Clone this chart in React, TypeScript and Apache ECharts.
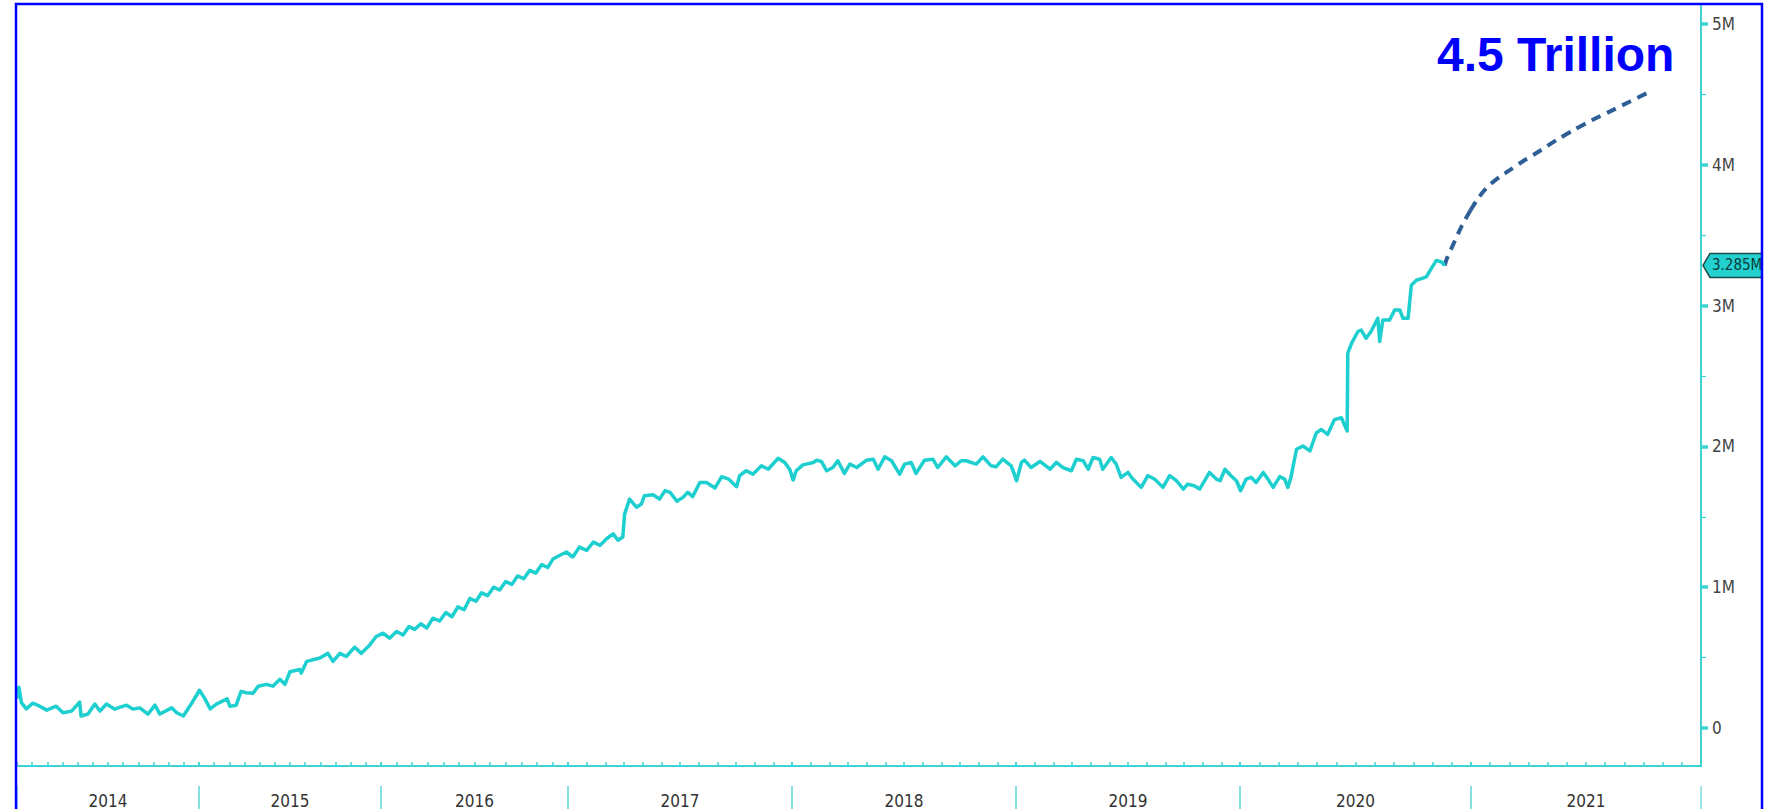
import React, { useEffect, useRef } from "react";
import * as echarts from "echarts";

// ---------- data ----------
const YEARS = [2014, 2015, 2016, 2017, 2018, 2019, 2020, 2021];
const Y_MAX = 5; // millions
const Y_STEP = 1;
const LAST_VALUE = 3.285;
const LAST_LABEL = "3.285M";
const ANNOTATION = "4.5 Trillion";

const dates: string[] = [
  "2014-01-01","2014-01-05","2014-01-10","2014-01-20","2014-02-02","2014-02-15","2014-02-28","2014-03-19",
  "2014-04-02","2014-04-19","2014-05-05","2014-05-08","2014-05-22","2014-06-05","2014-06-15","2014-06-28",
  "2014-07-15","2014-07-26","2014-08-08","2014-08-21","2014-09-04","2014-09-20","2014-10-04","2014-10-14",
  "2014-11-07","2014-11-17","2014-11-30","2014-12-16",
  "2015-01-02","2015-01-12","2015-01-24","2015-02-05","2015-02-25","2015-03-02","2015-03-15","2015-03-25",
  "2015-04-04","2015-04-18","2015-04-28","2015-05-15","2015-05-28","2015-06-11","2015-06-21","2015-07-01",
  "2015-07-21","2015-07-24","2015-08-04","2015-08-31","2015-09-16","2015-09-26","2015-10-10","2015-10-23",
  "2015-11-09","2015-11-22","2015-12-09","2015-12-22",
  "2016-01-05","2016-01-18","2016-02-01","2016-02-13","2016-02-24","2016-03-06","2016-03-18","2016-03-30",
  "2016-04-11","2016-04-24","2016-05-06","2016-05-18","2016-05-30","2016-06-11","2016-06-22","2016-07-04",
  "2016-07-15","2016-07-27","2016-08-08","2016-08-20","2016-09-01","2016-09-13","2016-09-24","2016-10-06",
  "2016-10-18","2016-10-30","2016-11-10","2016-11-22","2016-12-02","2016-12-16","2016-12-29",
  "2017-01-09","2017-01-20","2017-02-01","2017-02-11","2017-02-21","2017-03-03","2017-03-14","2017-03-22",
  "2017-03-30","2017-04-02","2017-04-10","2017-04-21","2017-04-29","2017-05-04","2017-05-18","2017-05-29",
  "2017-06-07","2017-06-15","2017-06-26","2017-07-06","2017-07-14","2017-07-22","2017-08-03","2017-08-14",
  "2017-08-28","2017-09-08","2017-09-19","2017-10-02","2017-10-07","2017-10-18","2017-10-29","2017-11-12",
  "2017-11-23","2017-12-09","2017-12-20","2017-12-28",
  "2018-01-03","2018-01-08","2018-01-19","2018-02-05","2018-02-10","2018-02-17","2018-02-25","2018-03-07",
  "2018-03-15","2018-03-26","2018-04-04","2018-04-15","2018-05-01","2018-05-12","2018-05-20","2018-05-31",
  "2018-06-11","2018-06-24","2018-07-02","2018-07-13","2018-07-21","2018-08-04","2018-08-18","2018-08-26",
  "2018-09-09","2018-09-23","2018-10-03","2018-10-11","2018-10-28","2018-11-08","2018-11-21","2018-11-29",
  "2018-12-10","2018-12-24",
  "2019-01-02","2019-01-10","2019-01-15","2019-01-26","2019-02-09","2019-02-24","2019-03-06","2019-03-17",
  "2019-03-31","2019-04-08","2019-04-19","2019-04-27","2019-05-05","2019-05-16","2019-05-21","2019-06-04",
  "2019-06-12","2019-06-20","2019-07-01","2019-07-09","2019-07-23","2019-08-03","2019-08-14","2019-08-28",
  "2019-09-08","2019-09-19","2019-09-30","2019-10-07","2019-10-18","2019-10-27","2019-11-12","2019-11-23",
  "2019-11-29","2019-12-07","2019-12-17","2019-12-26",
  "2020-01-02","2020-01-11","2020-01-19","2020-01-27","2020-02-07","2020-02-14","2020-02-22","2020-03-03",
  "2020-03-11","2020-03-16","2020-03-21","2020-03-30","2020-04-09","2020-04-20","2020-04-30","2020-05-08",
  "2020-05-18","2020-05-29","2020-06-09","2020-06-18","2020-06-19","2020-06-25","2020-07-05","2020-07-10",
  "2020-07-18","2020-07-26","2020-08-06","2020-08-09","2020-08-14","2020-08-25","2020-09-02","2020-09-10",
  "2020-09-15","2020-09-23","2020-09-28","2020-10-06","2020-10-14","2020-10-22","2020-10-30","2020-11-07",
  "2020-11-15","2020-11-20",
];

// excess liquidity, millions (shown as "M")
const values: number[] = [
  0.21,0.29,0.18,0.136,0.176,0.155,0.127,0.155,
  0.108,0.12,0.184,0.085,0.099,0.17,0.12,0.17,
  0.134,0.148,0.162,0.134,0.143,0.099,0.162,0.099,
  0.143,0.108,0.085,0.17,
  0.268,0.214,0.136,0.17,0.207,0.155,0.162,0.26,
  0.25,0.247,0.297,0.31,0.297,0.346,0.31,0.40,
  0.415,0.39,0.473,0.497,0.53,0.473,0.53,0.508,
  0.574,0.53,0.59,0.65,
  0.673,0.638,0.685,0.66,0.72,0.70,0.74,0.71,
  0.78,0.76,0.82,0.79,0.86,0.84,0.92,0.90,
  0.96,0.94,1.00,0.98,1.04,1.02,1.08,1.06,
  1.12,1.10,1.16,1.14,1.20,1.227,1.25,
  1.215,1.285,1.262,1.32,1.297,1.344,1.379,1.333,
  1.356,1.52,1.626,1.568,1.591,1.65,1.657,1.626,
  1.686,1.674,1.61,1.638,1.674,1.643,1.744,1.744,
  1.704,1.785,1.768,1.714,1.792,1.827,1.803,1.862,
  1.838,1.916,1.886,1.838,
  1.761,1.827,1.869,1.886,1.902,1.893,1.827,1.85,
  1.898,1.808,1.874,1.85,1.902,1.909,1.838,1.926,
  1.898,1.803,1.874,1.886,1.808,1.902,1.909,1.85,
  1.926,1.862,1.898,1.898,1.874,1.926,1.862,1.855,
  1.909,1.862,
  1.756,1.886,1.902,1.85,1.893,1.838,1.886,1.85,
  1.827,1.909,1.898,1.838,1.921,1.909,1.838,1.921,
  1.874,1.78,1.815,1.768,1.709,1.792,1.768,1.709,
  1.792,1.756,1.697,1.732,1.721,1.697,1.815,1.768,
  1.756,1.838,1.792,1.756,
  1.685,1.768,1.78,1.744,1.815,1.768,1.709,1.785,
  1.768,1.709,1.78,1.98,2.003,1.968,2.097,2.12,
  2.085,2.19,2.203,2.109,2.662,2.733,2.816,2.827,
  2.768,2.816,2.91,2.745,2.898,2.898,2.969,2.969,
  2.91,2.91,3.145,3.18,3.192,3.204,3.263,3.321,
  3.31,3.285,
];

const forecastDates: string[] = [
  "2020-11-20","2020-11-23","2020-12-05","2020-12-17","2020-12-31","2021-01-10","2021-01-21","2021-02-01",
  "2021-02-15","2021-03-01","2021-03-23","2021-04-19","2021-05-15","2021-06-11","2021-07-12","2021-08-14",
  "2021-09-10","2021-10-07",
];
const forecastValues: number[] = [
  3.285,3.33,3.45,3.565,3.675,3.745,3.81,3.86,
  3.915,3.96,4.025,4.10,4.175,4.245,4.32,4.39,
  4.45,4.51,
];

// ---------- layout / style ----------
const YEAR_EDGES = [17, 199, 381, 568, 792, 1016, 1240, 1471, 1701]; // pixel edges of each year band
const PLOT_TOP = 24;
const PLOT_H = 708;
const AXIS_Y_OFFSET = 34;
const CYAN = "#1ecfcf";
const AXIS_CYAN = "#3dd3d3";
const SEP_CYAN = "#7ddede";
const DASH_BLUE = "#2d5e96";
const LABEL_FONT = "'Liberation Sans Narrow', 'Arial Narrow', 'DejaVu Sans Condensed', sans-serif";

function toMonths(s: string): number {
  const [y, m, d] = s.split("-").map(Number);
  const dim = new Date(y, m, 0).getDate();
  return (y - YEARS[0]) * 12 + (m - 1) + (d - 1) / dim;
}

function sliceForYear(xs: number[], vs: number[], k: number): number[][] {
  const lo = 12 * k;
  const hi = 12 * k + 12;
  const inside = (x: number) => x >= lo && x <= hi;
  const out: number[][] = [];
  for (let i = 0; i < xs.length; i++) {
    const keep =
      inside(xs[i]) ||
      (i + 1 < xs.length && inside(xs[i + 1])) ||
      (i > 0 && inside(xs[i - 1])) ||
      (i + 1 < xs.length && xs[i] < lo && xs[i + 1] > hi) ||
      (i > 0 && xs[i - 1] < lo && xs[i] > hi);
    if (keep) out.push([xs[i], vs[i]]);
  }
  return out;
}

export default function App() {
  const ref = useRef<HTMLDivElement>(null);

  useEffect(() => {
    if (!ref.current) return;
    const chart = echarts.init(ref.current, undefined, { renderer: "svg" });

    const mainX = dates.map(toMonths);
    const fcX = forecastDates.map(toMonths);

    const grids: any[] = YEARS.map((_, k) => ({
      left: YEAR_EDGES[k],
      width: YEAR_EDGES[k + 1] - YEAR_EDGES[k],
      top: PLOT_TOP,
      height: PLOT_H,
      containLabel: false,
    }));
    const frameIndex = grids.length;
    grids.push({
      left: YEAR_EDGES[0],
      width: YEAR_EDGES[YEAR_EDGES.length - 1] - YEAR_EDGES[0],
      top: 4,
      height: PLOT_TOP + PLOT_H + AXIS_Y_OFFSET - 4,
      containLabel: false,
    });

    const xAxes: any[] = [];
    YEARS.forEach((yr, k) => {
      xAxes.push({
        gridIndex: k,
        type: "value",
        min: 12 * k,
        max: 12 * k + 12,
        interval: 1,
        position: "bottom",
        offset: AXIS_Y_OFFSET,
        axisLine: { show: false, onZero: false },
        axisTick: { show: true, length: 5, lineStyle: { color: AXIS_CYAN, width: 1.5 } },
        axisLabel: {
          show: true,
          margin: 30,
          fontSize: 17,
          color: "#333333",
          fontFamily: LABEL_FONT,
          formatter: (v: number) => (Math.round(v) === 12 * k + 6 ? String(yr) : ""),
        },
        splitLine: { show: false },
      });
      xAxes.push({
        gridIndex: k,
        type: "value",
        min: 12 * k,
        max: 12 * k + 12,
        interval: 12,
        position: "bottom",
        offset: AXIS_Y_OFFSET + 24,
        axisLine: { show: false, onZero: false },
        axisTick: { show: true, length: 30, lineStyle: { color: SEP_CYAN, width: 1.5 } },
        axisLabel: { show: false },
        splitLine: { show: false },
      });
    });
    xAxes.push({
      gridIndex: frameIndex,
      type: "value",
      min: 0,
      max: 1,
      position: "bottom",
      axisLine: { show: true, onZero: false, lineStyle: { color: AXIS_CYAN, width: 2 } },
      axisTick: { show: false },
      axisLabel: { show: false },
      splitLine: { show: false },
    });

    const lastK = YEARS.length - 1;
    const yAxes: any[] = YEARS.map((_, k) => ({
      gridIndex: k,
      type: "value",
      min: 0,
      max: Y_MAX,
      interval: Y_STEP,
      position: "right",
      show: k === lastK,
      axisLine: { show: false, onZero: false },
      axisTick: { show: true, length: 7, lineStyle: { color: AXIS_CYAN, width: 3.5 } },
      minorTick: { show: true, splitNumber: 2, length: 5, lineStyle: { color: AXIS_CYAN, width: 1.2 } },
      axisLabel: {
        margin: 11,
        fontSize: 17,
        color: "#444444",
        fontFamily: LABEL_FONT,
        formatter: (v: number) => (v === 0 ? "0" : `${v}M`),
      },
      splitLine: { show: false },
      minorSplitLine: { show: false },
    }));
    yAxes.push({
      gridIndex: frameIndex,
      type: "value",
      position: "right",
      min: 0,
      max: 1,
      axisLine: { show: true, onZero: false, lineStyle: { color: AXIS_CYAN, width: 2 } },
      axisTick: { show: false },
      axisLabel: { show: false },
      splitLine: { show: false },
    });

    const series: any[] = [];
    YEARS.forEach((_, k) => {
      const main = sliceForYear(mainX, values, k);
      if (main.length) {
        series.push({
          type: "line",
          xAxisIndex: 2 * k,
          yAxisIndex: k,
          data: main,
          symbol: "none",
          clip: true,
          lineStyle: { color: CYAN, width: 3.5, join: "round" },
          z: 3,
        });
      }
      const fc = sliceForYear(fcX, forecastValues, k);
      if (fc.length) {
        series.push({
          type: "line",
          xAxisIndex: 2 * k,
          yAxisIndex: k,
          data: fc,
          symbol: "none",
          clip: true,
          smooth: 0.3,
          lineStyle: { color: DASH_BLUE, width: 4, type: [10, 7], cap: "butt" },
          z: 2,
        });
      }
    });

    chart.setOption({
      animation: false,
      backgroundColor: "#ffffff",
      grid: grids,
      xAxis: xAxes,
      yAxis: yAxes,
      series,
    });

    const tagY = chart.convertToPixel({ yAxisIndex: lastK } as any, LAST_VALUE) as number;
    const ax = YEAR_EDGES[YEAR_EDGES.length - 1];

    chart.setOption({
      graphic: [
        {
          id: "tag",
          type: "polygon",
          z: 10,
          shape: {
            points: [
              [ax + 2, tagY],
              [ax + 9, tagY - 12],
              [1762, tagY - 12],
              [1762, tagY + 12],
              [ax + 9, tagY + 12],
            ],
          },
          style: { fill: "#22d1d0", stroke: "#1d4b4b", lineWidth: 1.5 },
        },
        {
          id: "tagText",
          type: "text",
          z: 11,
          x: ax + 11,
          y: tagY,
          style: {
            text: LAST_LABEL,
            fill: "#0d3a3a",
            fontSize: 15,
            fontFamily: LABEL_FONT,
            verticalAlign: "middle",
            align: "left",
          },
        },
        {
          id: "annot",
          type: "text",
          z: 11,
          x: 1437,
          y: 54,
          style: {
            text: ANNOTATION,
            fill: "#0000ff",
            fontSize: 48,
            fontWeight: "bold",
            fontFamily: "'Liberation Sans', Arial, sans-serif",
            verticalAlign: "middle",
            align: "left",
          },
        },
        {
          id: "border",
          type: "rect",
          z: 20,
          shape: { x: 16, y: 4, width: 1746, height: 900 },
          style: { fill: "none", stroke: "#0000ff", lineWidth: 2.5 },
        },
      ],
    });

    return () => chart.dispose();
  }, []);

  return (
    <div
      ref={ref}
      style={{ position: "fixed", left: 0, top: 0, width: 1767, height: 809, background: "#ffffff" }}
    />
  );
}
